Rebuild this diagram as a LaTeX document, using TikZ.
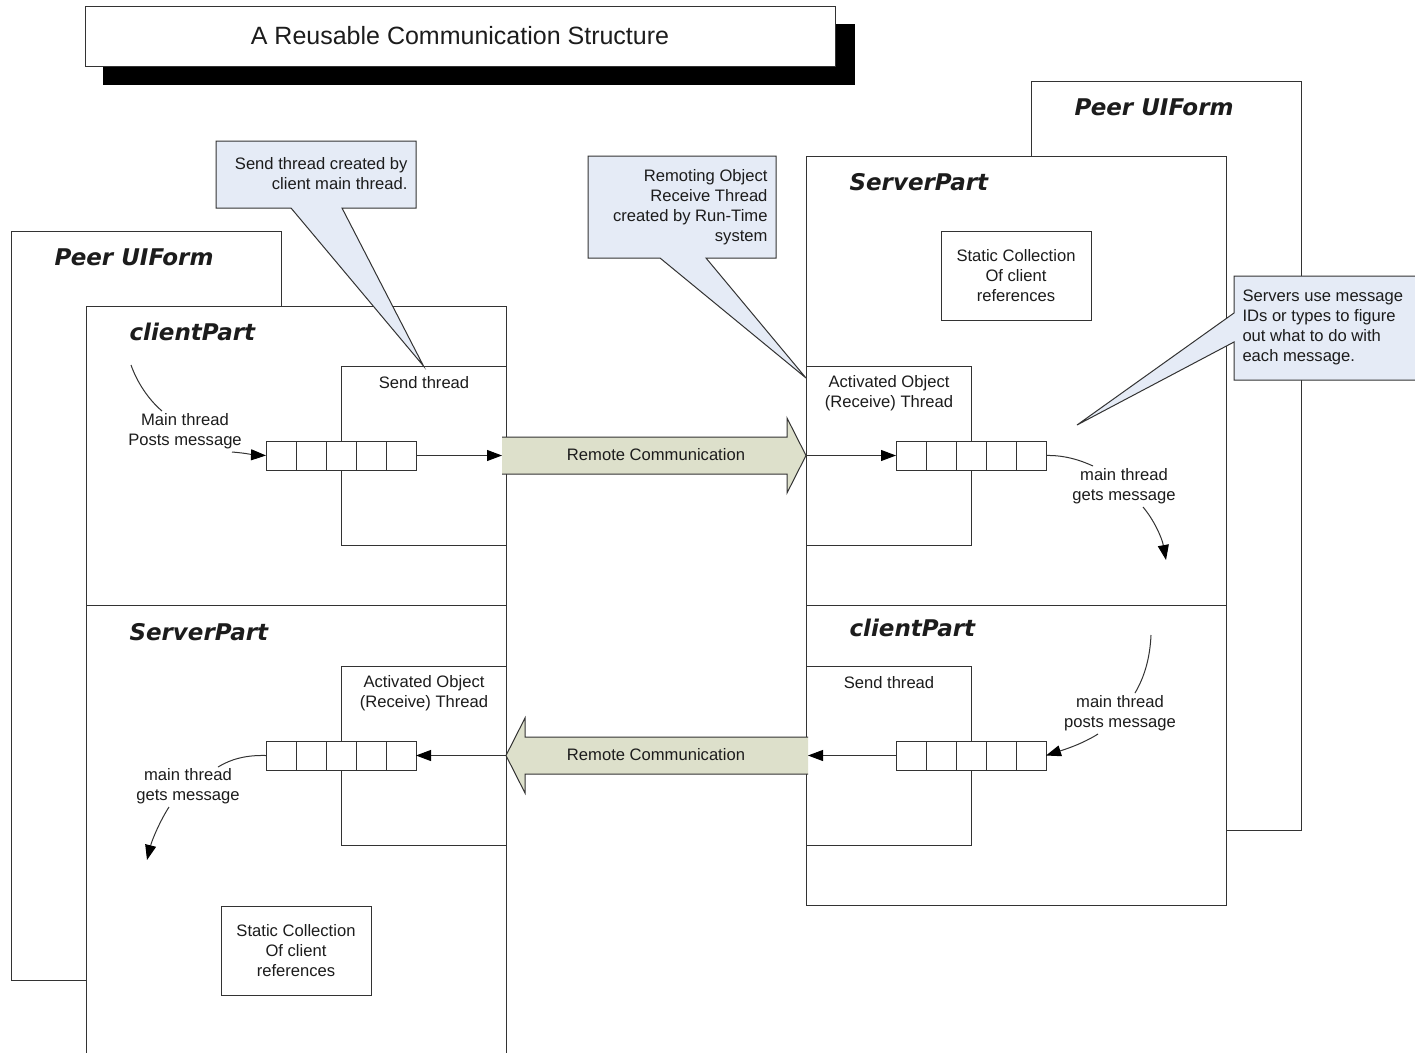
\documentclass[tikz,border=0pt]{standalone}
\usepackage{fontspec}
\setmainfont{Liberation Sans}
\newfontfamily\labelfont{DejaVu Sans Bold Oblique}
\usetikzlibrary{arrows.meta}

\definecolor{edge}{HTML}{333333}
\definecolor{ink}{HTML}{1C1C1C}
\definecolor{notefill}{HTML}{E5EBF6}
\definecolor{linkfill}{HTML}{DDE0CB}

\begin{document}
\begin{tikzpicture}[x=1pt, y=-1pt, line width=1pt,
  every node/.style={text=ink},
  txt/.style={font=\fontsize{16.6}{20}\selectfont, align=center, inner sep=0pt},
  frame/.style={draw=edge, fill=white, inner sep=0pt, outer sep=0pt, anchor=north west},
  partlabel/.style={font=\labelfont\fontsize{23}{26}\selectfont, anchor=base west, inner sep=0pt},
  cell/.style={draw=edge, fill=white, minimum width=30pt, minimum height=29pt,
               inner sep=0pt, outer sep=0pt, anchor=north west},
  link/.style={draw=edge, -{Triangle[length=15pt,width=11pt,color=black]}},
  plainlink/.style={draw=edge},
  note/.style={draw=edge, fill=notefill, line join=miter},
  bigarrow/.style={fill=linkfill}
]
\useasboundingbox (0,0) rectangle (1415,1052);
\clip (0,0) rectangle (1415,1052);
\fill[white] (0,0) rectangle (1415,1052);

% ---- title with drop shadow
\node[fill=black, inner sep=0pt, outer sep=0pt, anchor=north west,
      minimum width=752pt, minimum height=61pt] (titleshadow) at (103,24) {};
\node[frame, minimum width=750pt, minimum height=60pt,
      font=\fontsize{25}{30}\selectfont] (title) at (85,6) {A Reusable Communication Structure};

% ---- peer forms (behind the parts)
\node[frame, minimum width=270pt, minimum height=749pt] (peerL) at (11,231) {};
\node[frame, minimum width=270pt, minimum height=749pt] (peerR) at (1031,81) {};
\node[partlabel] at (54,265) {Peer UIForm};
\node[partlabel] at (1074,115) {Peer UIForm};

% ---- client / server parts
\node[frame, minimum width=420pt, minimum height=299pt] (clientL) at (86,306) {};
\node[frame, minimum width=420pt, minimum height=470pt] (serverL) at (86,605) {};
\node[frame, minimum width=420pt, minimum height=449pt] (serverR) at (806,156) {};
\node[frame, minimum width=420pt, minimum height=300pt] (clientR) at (806,605) {};
\node[partlabel] at (129,340) {clientPart};
\node[partlabel] at (129,640) {ServerPart};
\node[partlabel] at (849,190) {ServerPart};
\node[partlabel] at (849,636) {clientPart};

% ---- thread boxes
\node[frame, minimum width=165pt, minimum height=179pt] (sendL) at (341,366) {};
\node[frame, minimum width=165pt, minimum height=179pt] (actL) at (341,666) {};
\node[frame, minimum width=165pt, minimum height=179pt] (actR) at (806,366) {};
\node[frame, minimum width=165pt, minimum height=179pt] (sendR) at (806,666) {};
\node[txt] at (424,383) {Send thread};
\node[txt] at (424,693) {Activated Object\\(Receive) Thread};
\node[txt] at (889,393) {Activated Object\\(Receive) Thread};
\node[txt] at (889,683) {Send thread};

% ---- static collections
\node[frame, minimum width=150pt, minimum height=89pt, txt] (statR) at (941,231)
  {Static Collection\\Of client\\references};
\node[frame, minimum width=150pt, minimum height=89pt, txt] (statL) at (221,906)
  {Static Collection\\Of client\\references};

% ---- message queues
\foreach \i in {1,...,5} {
  \node[cell] (qa\i) at ({266+30*(\i-1)},441) {};
  \node[cell] (qb\i) at ({896+30*(\i-1)},441) {};
  \node[cell] (qc\i) at ({896+30*(\i-1)},741) {};
  \node[cell] (qd\i) at ({266+30*(\i-1)},741) {};
}

% ---- remote communication arrows
\fill[bigarrow] (502,437) -- (787,437) -- (787,418) -- (806,455.5) -- (787,493)
  -- (787,474) -- (502,474) -- cycle;
\draw[edge] (502,437) -- (787,437) -- (787,418) -- (806,455.5) -- (787,493)
  -- (787,474) -- (502,474);
\node[txt] (rcTop) at (656,455) {Remote Communication};
\coordinate (rcTopTail) at (502,455.5);
\coordinate (rcTopTip) at (806,455.5);

\fill[bigarrow] (808,737) -- (525,737) -- (525,718) -- (506,755.5) -- (525,793)
  -- (525,774) -- (808,774) -- cycle;
\draw[edge] (808,737) -- (525,737) -- (525,718) -- (506,755.5) -- (525,793)
  -- (525,774) -- (808,774);
\node[txt] (rcBot) at (656,755) {Remote Communication};
\coordinate (rcBotTail) at (808,755.5);
\coordinate (rcBotTip) at (506,755.5);

% ---- queue connectors
\draw[link] (qa5.east) -- (rcTopTail);
\draw[link] (rcTopTip) -- (qb1.west);
\draw[link] (qc1.west) -- (rcBotTail);
\draw[link] (rcBotTip) -- (qd5.east);

% ---- main thread annotations
\node[txt] (postL) at (185,431) {Main thread\\Posts message};
\coordinate (postLa) at (131,365);
\coordinate (postLb) at (162,411);
\coordinate (postLc) at (232,452);
\draw[plainlink] (postLa) .. controls (137,382) and (148,399) .. (postLb);
\draw[link] (postLc) .. controls (245,453) and (255,455) .. (qa1.west);

\node[txt] (getR) at (1124,486) {main thread\\gets message};
\coordinate (getRa) at (1093,466);
\coordinate (getRb) at (1143,507);
\coordinate (getRc) at (1166,560);
\draw[plainlink] (qb5.east) .. controls (1064,455) and (1080,460) .. (getRa);
\draw[link] (getRb) .. controls (1154,520) and (1162,538) .. (getRc);

\node[txt] (postR) at (1120,713) {main thread\\posts message};
\coordinate (postRa) at (1151,635);
\coordinate (postRb) at (1135,693);
\coordinate (postRc) at (1098,734);
\draw[plainlink] (postRa) .. controls (1150,657) and (1145,676) .. (postRb);
\draw[link] (postRc) .. controls (1082,744) and (1066,749) .. (qc5.east);

\node[txt] (getL) at (188,786) {main thread\\gets message};
\coordinate (getLa) at (218,767);
\coordinate (getLb) at (169,807);
\coordinate (getLc) at (147,860);
\draw[plainlink] (qd1.west) .. controls (246,755) and (231,759) .. (getLa);
\draw[link] (getLb) .. controls (160,821) and (152,840) .. (getLc);

% ---- callouts
\coordinate (tipA) at (sendL.north);
\filldraw[note] (216,141) -- (416,141) -- (416,208) -- (342,208) -- (tipA)
  -- (291,208) -- (216,208) -- cycle;
\node[txt, align=right, anchor=east] (noteA) at (408,174)
  {Send thread created by\\client main thread.};

\coordinate (tipB) at (806,378);
\filldraw[note] (588,156) -- (776,156) -- (776,258) -- (706,258) -- (tipB)
  -- (660,258) -- (588,258) -- cycle;
\node[txt, align=right, anchor=east] (noteB) at (768,207)
  {Remoting Object\\Receive Thread\\created by Run-Time\\system};

\coordinate (tipC) at (1077,425);
\filldraw[note] (1234,276) -- (1420,276) -- (1420,380) -- (1234,380) -- (1234,342)
  -- (tipC) -- (1234,313) -- cycle;
\node[txt, align=left, anchor=west] (noteC) at (1242,327)
  {Servers use message\\IDs or types to figure\\out what to do with\\each message.};
\end{tikzpicture}
\end{document}
